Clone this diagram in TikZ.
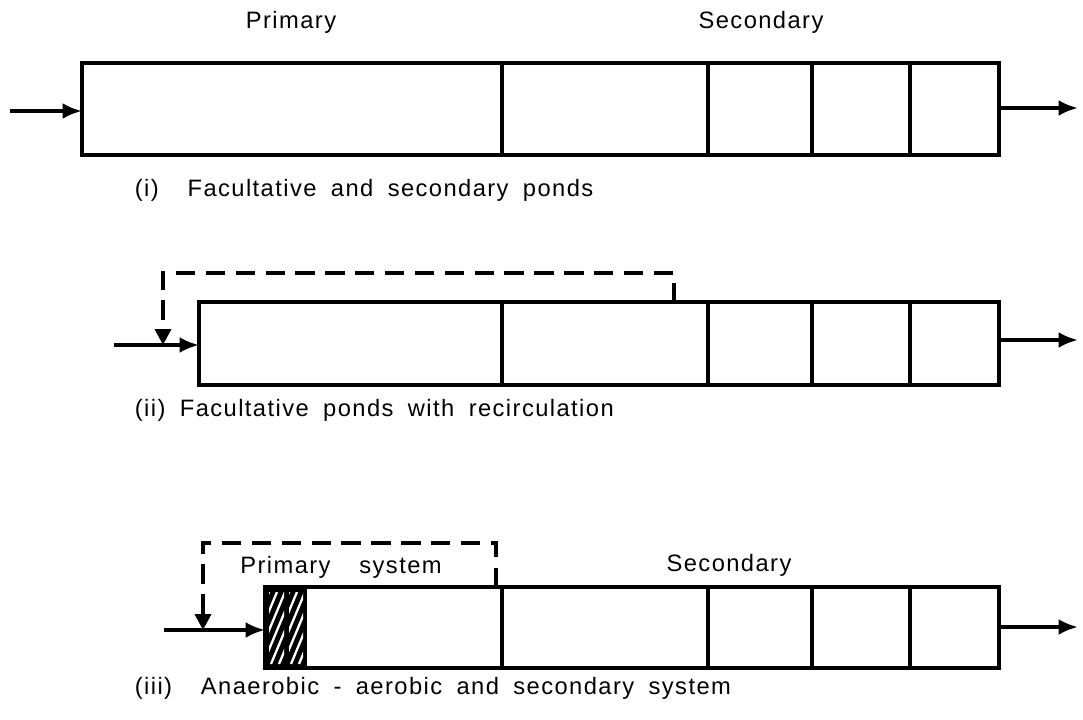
\documentclass[tikz,border=0pt]{standalone}
\usepackage{fontspec}
\setmainfont{Liberation Sans}[LetterSpace=6,WordSpace=1.8]
\usetikzlibrary{arrows.meta}

\begin{document}
\begin{tikzpicture}[x=0.02cm,y=-0.02cm,line width=2.1pt,
	flow/.style={-{Latex[length=11pt,width=9pt]}},
	recirc/.style={dash pattern=on 11pt off 6pt,-{Triangle[length=9pt,width=9pt]}},
	lbl/.style={font=\fontsize{13.5}{16}\selectfont,inner sep=0pt}]
		\useasboundingbox (0,0) rectangle (1083,720);
		% ponds: left edge / top / bottom
		\foreach \l/\t/\b in {82/63/155, 199/302/385, 265/587/668}{
			\draw (\l,\t) rectangle (999,\b);
			\foreach \x in {502,708,812,910} \draw (\x,\t) -- (\x,\b);
		}
		% anaerobic cells
		\fill (265,587) rectangle (307,668);
		\begin{scope}[white,line width=1.3pt]
			\foreach \xa/\xb in {269/284, 289/303}{
				\begin{scope}
					\clip (\xa,592) rectangle (\xb,664);
					\foreach \k in {0,8,...,104} \draw (\xa-30+\k,664) -- (\xa+\k,592);
				\end{scope}
			}
		\end{scope}
		% (i)
		\node[lbl] (prim) at (291,22) {Primary};
		\node[lbl] (sec) at (761,22) {Secondary};
		\coordinate (in1) at (10,111);
		\coordinate (p1) at (82,111);
		\coordinate (o1) at (999,108);
		\coordinate (out1) at (1078,108);
		\draw[flow] (in1) -- (p1);
		\draw[flow] (o1) -- (out1);
		\node[lbl,anchor=west] (cap1) at (133,190) {(i)\ \ Facultative and secondary ponds};
		% (ii)
		\coordinate (in2) at (114,345);
		\coordinate (p2) at (199,345);
		\coordinate (j2) at (163,345);
		\coordinate (r2) at (674,302);
		\coordinate (o2) at (1000,340);
		\coordinate (out2) at (1078,340);
		\draw[flow] (in2) -- (p2);
		\draw[flow] (o2) -- (out2);
		\draw[recirc] (r2) -- (674,273) -- (163,273) -- (j2);
		\node[lbl,anchor=west] (cap2) at (133,410) {(ii) Facultative ponds with recirculation};
		% (iii)
		\node[lbl] (psys) at (341,567) {Primary\ \ system};
		\node[lbl] (sec3) at (729,565) {Secondary};
		\coordinate (in3) at (164,630);
		\coordinate (p3) at (265,630);
		\coordinate (j3) at (203,630);
		\coordinate (r3) at (496,587);
		\coordinate (o3) at (999,627);
		\coordinate (out3) at (1078,627);
		\draw[flow] (in3) -- (p3);
		\draw[flow] (o3) -- (out3);
		\draw[recirc] (r3) -- (496,543) -- (203,543) -- (j3);
		\node[lbl,anchor=west] (cap3) at (133,688) {(iii)\ \ Anaerobic - aerobic and secondary system};
\end{tikzpicture}
\end{document}
